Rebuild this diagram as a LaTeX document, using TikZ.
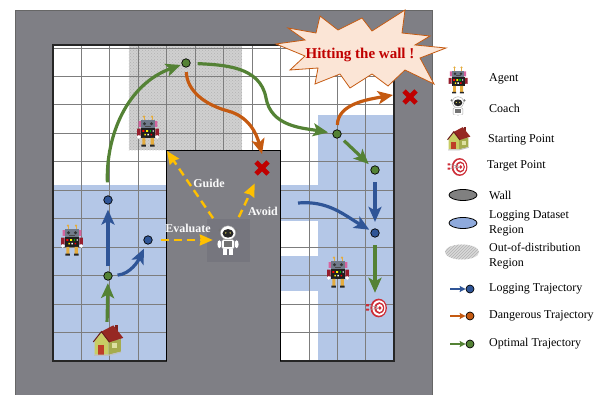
\documentclass[tikz,border=0pt]{standalone}
\usepackage{fontspec}
\setmainfont{Liberation Serif}
\usetikzlibrary{arrows.meta,patterns}

\definecolor{wallgray}{RGB}{127,127,133}
\definecolor{coachgray}{RGB}{118,118,126}
\definecolor{logblue}{RGB}{180,199,231}
\definecolor{oodgray}{RGB}{208,208,208}
\definecolor{gridgray}{RGB}{125,125,125}
\definecolor{trajblue}{RGB}{47,85,151}
\definecolor{trajorange}{RGB}{197,90,17}
\definecolor{trajgreen}{RGB}{84,130,53}
\definecolor{hintyellow}{RGB}{255,192,0}
\definecolor{hitred}{RGB}{192,0,0}
\definecolor{burstfill}{RGB}{251,229,214}
\definecolor{keywall}{RGB}{128,128,128}
\definecolor{keyblue}{RGB}{143,170,220}
% robot and house colours
\definecolor{botgray}{RGB}{112,122,138}
\definecolor{botpink}{RGB}{214,100,160}
\definecolor{botred}{RGB}{150,30,45}
\definecolor{botleg}{RGB}{228,172,62}
\definecolor{housewall}{RGB}{200,205,100}
\definecolor{houseside}{RGB}{165,172,78}
\definecolor{roofred}{RGB}{150,40,35}
\definecolor{doorred}{RGB}{190,62,40}
\definecolor{targetred}{RGB}{205,45,55}

\tikzset{
  traj/.style={line width=3.2pt, -{Stealth[length=15pt,width=13pt,inset=3.5pt]}},
  logtraj/.style={traj, trajblue},
  dangtraj/.style={traj, trajorange},
  opttraj/.style={traj, trajgreen},
  keytraj/.style={line width=1.8pt, -{Stealth[length=6pt,width=6pt,inset=1pt]}},
  dot/.style={circle, draw=black, line width=0.7pt, minimum size=8.5pt, inner sep=0pt},
  logdot/.style={dot, fill=trajblue},
  dangdot/.style={dot, fill=trajorange},
  optdot/.style={dot, fill=trajgreen},
  hint/.style={hintyellow, line width=2.4pt, dash pattern=on 8pt off 5pt,
    -{Stealth[length=13pt,width=11pt,inset=1pt]}},
  hintlabel/.style={text=white!96!gray, inner sep=0pt, font=\fontsize{12}{14}\selectfont\bfseries},
  keytext/.style={anchor=west, inner sep=0pt, align=left, font=\fontsize{12}{15}\selectfont},
  iconbox/.style={inner sep=0pt, minimum width=#1},
  % small pictures
  agentbot/.pic={
    \draw[botleg, line width=0.7pt] (-3.5,8.5) -- (-3.5,12) (3.5,8.5) -- (3.5,12);
    \fill[botleg] (-3.5,12.5) circle (1.1) (3.5,12.5) circle (1.1);
    \fill[botpink] (-8.2,3.5) rectangle (-5.5,8.5) (5.5,3.5) rectangle (8.2,8.5);
    \fill[botgray] (-6,2.5) rectangle (6,9.2);
    \fill[black!80] (-3,6.3) circle (1.4) (3,6.3) circle (1.4);
    \fill[black!70] (-2.5,3.5) rectangle (2.5,4.5);
    \fill[botred] (-9.5,-4) rectangle (-6.5,2) (6.5,-4) rectangle (9.5,2);
    \fill[white] (-8,-5.2) circle (1.7) (8,-5.2) circle (1.7);
    \fill[black!88] (-6.5,-6) rectangle (6.5,2.5);
    \fill[red] (-4.8,-0.8) rectangle (-3.2,0.8) (2.2,-3.8) rectangle (3.6,-2.4);
    \fill[yellow] (-1.6,-0.8) rectangle (0,0.8) (-3.2,-3.8) rectangle (-1.8,-2.4);
    \fill[green!70!black] (1.4,-0.8) rectangle (3,0.8);
    \fill[white] (4,-0.6) rectangle (5.2,0.6) (-0.6,-3.8) rectangle (0.8,-2.4);
    \fill[botleg] (-5,-12) rectangle (-2.2,-6) (2.2,-12) rectangle (5,-6);
    \fill[black!85] (-5.8,-13.5) rectangle (-1.8,-11.8) (1.8,-13.5) rectangle (5.8,-11.8);
  },
  coachbot/.pic={
    \fill[black!55] (-6.6,8) circle (1.4) (6.6,8) circle (1.4);
    \filldraw[draw=black!35, fill=white, line width=0.4pt] (0,6) ellipse (6.3 and 5.8);
    \fill[black!85] (0,5.5) ellipse (4.6 and 3.6);
    \fill[yellow!60!white] (-1.8,5.9) circle (0.6) (1.8,5.9) circle (0.6);
    \fill[white] (-7.2,-3.5) ellipse (1.6 and 3.3) (7.2,-3.5) ellipse (1.6 and 3.3);
    \filldraw[draw=black!35, fill=white, line width=0.4pt, rounded corners=1.5pt]
      (-5.2,-7.5) rectangle (5.2,0.3);
    \fill[black!55] (-3.2,-5.5) rectangle (3.2,-1.2);
    \fill[white] (-4,-12.5) rectangle (-1,-7.5) (1,-12.5) rectangle (4,-7.5);
  },
  homehouse/.pic={
    \fill[houseside] (1,-11) -- (11,-8.5) -- (11,1.5) -- (1,0) -- cycle;
    \fill[housewall] (-10,-11) -- (1,-11) -- (1,0) -- (-4.5,6.5) -- (-10,0) -- cycle;
    \fill[roofred!85!black] (6,8) rectangle (8.5,13);
    \fill[roofred] (-4.5,7.5) -- (5,12.5) -- (13,2.5) -- (2,-1) -- cycle;
    \draw[roofred!70!black, line width=1pt] (-11,-0.8) -- (-4.5,7.5) -- (2,-1);
    \fill[doorred] (-7,-11) rectangle (-2.5,-3.5);
    \fill[housewall!60!white] (4,-6) rectangle (8,-2);
    \fill[black!25] (-10.5,-12) -- (1,-12) -- (11.5,-9.2) -- (11,-8.5) -- (1,-11) -- (-10,-11) -- cycle;
  },
  targetboard/.pic={
    \fill[targetred] (1.5,0) ellipse (7.5 and 8.5);
    \fill[white] (1.8,0) ellipse (6 and 7);
    \fill[targetred] (2.1,0) ellipse (4.5 and 5.3);
    \fill[white] (2.4,0) ellipse (3 and 3.6);
    \fill[targetred] (2.6,0) ellipse (1.5 and 1.8);
    \draw[gray!70, line width=0.6pt] (-9,2.5) -- (1,0.8) (-9,-1.5) -- (1,-0.4);
    \fill[targetred] (-10,1.5) rectangle (-7.5,3.5) (-10,-2.5) rectangle (-7.5,-0.5);
  },
  hitmark/.pic={
    \draw[hitred, line width=4.8pt] (-6,-6) -- (6,6) (-6,6) -- (6,-6);
  },
}

\begin{document}
\begin{tikzpicture}[x=1pt,y=1pt]
  \useasboundingbox (0,0) rectangle (603,394);
  \fill[white] (0,0) rectangle (603,394);

  % outer wall
  \draw[black!60, line width=0.8pt, fill=wallgray] (15,-2) rectangle (432,384);

  % 9x9 grid world
  \begin{scope}[shift={(53,33)}, x=37.889pt, y=35.111pt]
    \fill[white] (0,0) rectangle (9,9);
    \fill[logblue] (0,0) rectangle (3,5);
    \fill[logblue] (7,0) rectangle (9,7);
    \fill[logblue] (6,4) rectangle (7,5);
    \fill[logblue] (6,2) rectangle (7,3);
    \fill[oodgray] (2,6) rectangle (5,9);
    \fill[pattern=crosshatch dots, pattern color=gray!60] (2,6) rectangle (5,9);
    \draw[gridgray, line width=1pt] (0,0) grid (9,9);
    \draw[black!85, line width=1.2pt] (0,0) rectangle (9,9);
    \fill[wallgray] (3,-0.06) rectangle (6,6);
    \draw[black, line width=1.2pt] (3,0) -- (3,6) -- (6,6) -- (6,0);
  \end{scope}
  \fill[coachgray] (207,132) rectangle (250,175);

  % agents, coach, start and goal
  \pic[scale=1.15] at (148,263) {agentbot};
  \pic[scale=1.15] at (72,154) {agentbot};
  \pic[scale=1.15] at (338,122) {agentbot};
  \node[iconbox=22pt, minimum height=30pt] (coach) at (228,154) {};
  \pic[scale=1.2] at (coach) {coachbot};
  \node[iconbox=26pt, minimum height=32pt] (home) at (107,53) {};
  \pic[scale=1.25] at (home) {homehouse};
  \node[iconbox=22pt, minimum height=20pt] (goal) at (377,86) {};
  \pic[scale=1.1] at (goal) {targetboard};

  % crashes
  \node[iconbox=16pt, minimum height=16pt] (hit1) at (262,226) {};
  \pic at (hit1) {hitmark};
  \node[iconbox=16pt, minimum height=16pt] (hit2) at (410,297) {};
  \pic at (hit2) {hitmark};

  % states along the trajectories
  \node[optdot] (g0) at (108,118) {};
  \node[logdot] (b1) at (108,194) {};
  \node[logdot] (b2) at (148,154) {};
  \node[optdot] (g1) at (186,331) {};
  \node[optdot] (g2) at (337,260) {};
  \node[optdot] (g3) at (375,224) {};
  \node[logdot] (b3) at (375,161) {};
  \coordinate (swing) at (266,296);
  \coordinate (veer) at (228,283);
  \coordinate (hit1top) at (262,240);
  \coordinate (wallhit) at (393,299);
  \coordinate (logtail) at (298,191);
  \coordinate (oodcorner) at (167,243);

  % logging trajectory
  \draw[logtraj, shorten <=5pt, shorten >=5pt] (g0) -- (b1);
  \draw[logtraj, shorten <=5pt, shorten >=5pt] (g0) to[out=5,in=-115] (b2);
  \draw[logtraj, shorten <=7.5pt, shorten >=6.5pt] (g3) -- (b3);
  \draw[logtraj, shorten >=2pt] (logtail) to[out=5,in=150] (b3);

  % optimal trajectory
  \draw[opttraj, shorten <=3pt, shorten >=2.5pt] (home.north) -- (g0.south);
  \draw[opttraj, shorten <=13pt, shorten >=1pt] (b1) to[out=92,in=200] (g1);
  \draw[opttraj, shorten <=7pt, shorten >=4.5pt] (g1) to[out=-3,in=100] (swing)
    to[out=-80,in=170] (g2);
  \draw[opttraj, shorten <=5pt, shorten >=4pt] (g2) -- (g3);
  \draw[opttraj, shorten <=7.5pt, shorten >=5pt] (b3) -- (b3 |- goal.north);

  % dangerous trajectory
  \draw[dangtraj, shorten <=4.5pt] (g1) to[out=-88,in=165] (veer)
    to[out=-15,in=105] (hit1top);
  \draw[dangtraj, shorten <=4.5pt] (g2) to[out=88,in=190] (wallhit);

  % coach hints
  \draw[hint, shorten <=8.5pt, shorten >=4pt] (b2) -- (coach);
  \draw[hint, shorten <=8pt] (coach) -- (oodcorner);
  \draw[hint, shorten <=8.5pt, shorten >=8pt] (coach) -- (hit1);
  \node[hintlabel] (guidetxt) at (209,211) {Guide};
  \node[hintlabel] (evaltxt) at (188,166) {Evaluate};
  \node[hintlabel] (avoidtxt) at (263,183) {Avoid};

  % warning burst
  \draw[trajorange, fill=burstfill, line width=0.8pt, line join=miter]
    (276,350) -- (305,354) -- (288,366) -- (316,361) -- (320,378) -- (338,364)
    -- (362,376) -- (372,363) -- (405,384) -- (402,361) -- (430,358) -- (415,349)
    -- (446,346) -- (420,336) -- (434,310) -- (405,324) -- (388,308) -- (372,320)
    -- (350,306) -- (340,320) -- (315,310) -- (318,326) -- (290,324) -- (305,338)
    -- cycle;
  \node[text=hitred, inner sep=0pt, font=\fontsize{15}{17}\selectfont\bfseries]
    (hitnote) at (360,339) {Hitting the wall !};

  % legend
  \pic at (458,314) {agentbot};
  \node[keytext] (agentkey) at (489,315) {Agent};
  \pic[scale=0.95] at (458,286) {coachbot};
  \node[keytext] (coachkey) at (489,286) {Coach};
  \pic[scale=0.95] at (458,255) {homehouse};
  \node[keytext] (homekey) at (488,254) {Starting Point};
  \pic[scale=1.05] at (458,227) {targetboard};
  \node[keytext] (goalkey) at (487,228) {Target Point};
  \draw[black, fill=keywall, line width=0.8pt] (463,199) ellipse (14 and 5.5);
  \node[keytext] (wallkey) at (489,199) {Wall};
  \draw[black, fill=keyblue, line width=0.8pt] (463,171) ellipse (14 and 5.5);
  \node[keytext] (logregkey) at (489,171) {Logging Dataset\\Region};
  \fill[gray!30] (462,142) ellipse (17 and 7.5);
  \fill[pattern=north east lines, pattern color=gray!60] (462,142) ellipse (17 and 7.5);
  \node[keytext] (oodkey) at (489,138) {Out-of-distribution\\Region};

  \coordinate (logkeytail) at (450,105);
  \node[logdot, minimum size=8pt] (logkeydot) at (470,105) {};
  \draw[keytraj, trajblue] (logkeytail) -- (logkeydot);
  \node[keytext] (logkey) at (489,105) {Logging Trajectory};
  \coordinate (dangkeytail) at (450,78);
  \node[dangdot, minimum size=8pt] (dangkeydot) at (470,78) {};
  \draw[keytraj, trajorange] (dangkeytail) -- (dangkeydot);
  \node[keytext] (dangkey) at (489,78) {Dangerous Trajectory};
  \coordinate (optkeytail) at (450,50);
  \node[optdot, minimum size=8pt] (optkeydot) at (470,50) {};
  \draw[keytraj, trajgreen] (optkeytail) -- (optkeydot);
  \node[keytext] (optkey) at (489,50) {Optimal Trajectory};
\end{tikzpicture}
\end{document}
